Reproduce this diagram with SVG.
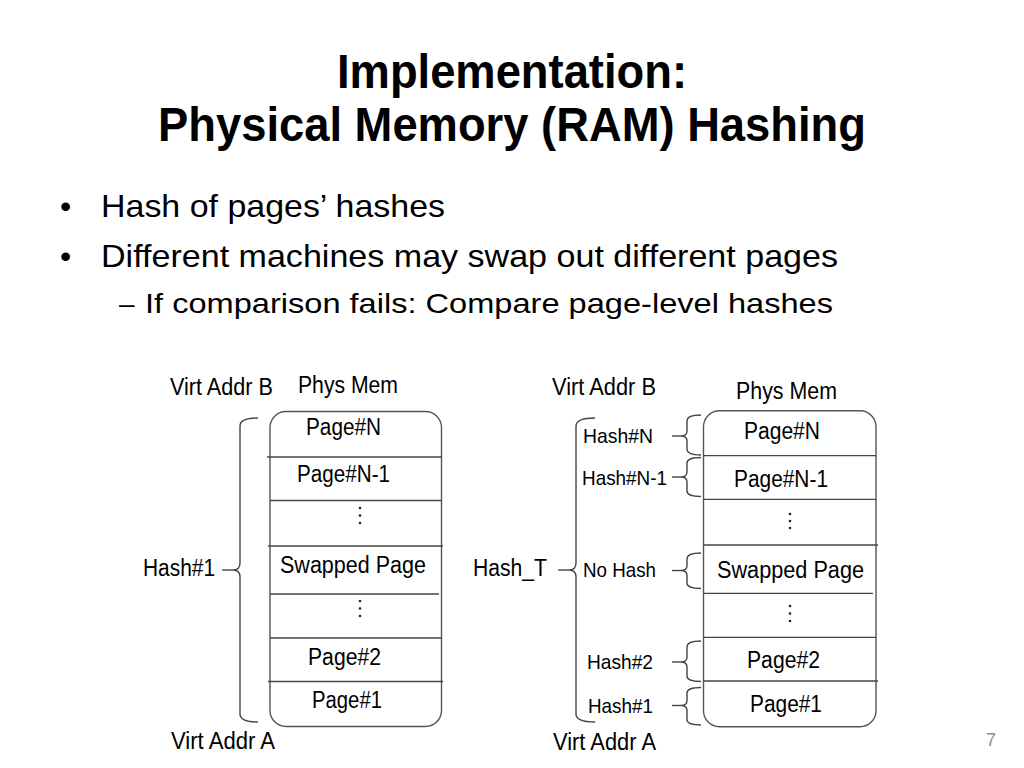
<svg xmlns="http://www.w3.org/2000/svg" width="1024" height="768" viewBox="0 0 1024 768">
<style>
text{font-family:"Liberation Sans",Arial,sans-serif;fill:#000}
.title{font-size:48px;font-weight:bold}
.b1{font-size:32px}
.b2{font-size:28px}
.lbl{font-size:23px}
.sm{font-size:21px}
.box{fill:#fff;stroke:#555;stroke-width:1.4}
.div{stroke:#444;stroke-width:1.3}
.br{fill:none;stroke:#444;stroke-width:1.4}
.dot{fill:#222}
</style>
<rect width="1024" height="768" fill="#fff"/>
<g id="title">
<text class="title" x="337" y="88" textLength="350" lengthAdjust="spacingAndGlyphs">Implementation:</text>
<text class="title" x="158" y="141" textLength="708" lengthAdjust="spacingAndGlyphs">Physical Memory (RAM) Hashing</text>
</g>
<g id="bullets">
<text class="b1" x="60" y="217">•</text>
<text class="b1" x="101" y="217" textLength="344" lengthAdjust="spacingAndGlyphs">Hash of pages’ hashes</text>
<text class="b1" x="60" y="267">•</text>
<text class="b1" x="101" y="267" textLength="737" lengthAdjust="spacingAndGlyphs">Different machines may swap out different pages</text>
<text class="b2" x="119" y="313">–</text>
<text class="b2" x="145" y="313" textLength="688" lengthAdjust="spacingAndGlyphs">If comparison fails: Compare page-level hashes</text>
</g>
<g id="left-diagram">
<g id="left-physmem">
<rect class="box" x="270" y="411.5" width="171.5" height="315" rx="16"/>
<line class="div" x1="267" y1="457" x2="441.5" y2="457"/>
<line class="div" x1="270" y1="500.5" x2="441.5" y2="500.5"/>
<line class="div" x1="268" y1="546" x2="443" y2="546"/>
<line class="div" x1="270" y1="594" x2="439" y2="594"/>
<line class="div" x1="270" y1="638" x2="441.5" y2="638"/>
<line class="div" x1="268" y1="681.5" x2="443" y2="681.5"/>
<text class="lbl" x="306" y="435" textLength="75" lengthAdjust="spacingAndGlyphs">Page#N</text>
<text class="lbl" x="297" y="481.5" textLength="93" lengthAdjust="spacingAndGlyphs">Page#N-1</text>
<circle class="dot" cx="360" cy="508" r="1.3"/><circle class="dot" cx="360" cy="515.5" r="1.3"/><circle class="dot" cx="360" cy="523" r="1.3"/>
<text class="lbl" x="280" y="573" textLength="146" lengthAdjust="spacingAndGlyphs">Swapped Page</text>
<circle class="dot" cx="360" cy="601" r="1.3"/><circle class="dot" cx="360" cy="608.5" r="1.3"/><circle class="dot" cx="360" cy="616" r="1.3"/>
<text class="lbl" x="308" y="665" textLength="73" lengthAdjust="spacingAndGlyphs">Page#2</text>
<text class="lbl" x="312" y="708" textLength="70" lengthAdjust="spacingAndGlyphs">Page#1</text>
</g>
<g id="left-labels">
<text class="lbl" x="170" y="395" textLength="103" lengthAdjust="spacingAndGlyphs">Virt Addr B</text>
<text class="lbl" x="298" y="393" textLength="100" lengthAdjust="spacingAndGlyphs">Phys Mem</text>
<text class="lbl" x="143" y="576" textLength="72" lengthAdjust="spacingAndGlyphs">Hash#1</text>
<text class="lbl" x="171" y="749" textLength="104" lengthAdjust="spacingAndGlyphs">Virt Addr A</text>
</g>
</g>
<g id="right-diagram">
<g id="right-physmem">
<rect class="box" x="703.5" y="410.7" width="172.5" height="316" rx="16"/>
<line class="div" x1="703.5" y1="455.7" x2="876" y2="455.7"/>
<line class="div" x1="703.5" y1="499.3" x2="876" y2="499.3"/>
<line class="div" x1="703.5" y1="545" x2="878" y2="545"/>
<line class="div" x1="703.5" y1="593.3" x2="873" y2="593.3"/>
<line class="div" x1="703.5" y1="637.3" x2="876" y2="637.3"/>
<line class="div" x1="703.5" y1="681" x2="878" y2="681"/>
<text class="lbl" x="744" y="439" textLength="76" lengthAdjust="spacingAndGlyphs">Page#N</text>
<text class="lbl" x="734" y="486.5" textLength="94" lengthAdjust="spacingAndGlyphs">Page#N-1</text>
<circle class="dot" cx="790" cy="514" r="1.3"/><circle class="dot" cx="790" cy="521" r="1.3"/><circle class="dot" cx="790" cy="528" r="1.3"/>
<text class="lbl" x="717" y="577.5" textLength="147" lengthAdjust="spacingAndGlyphs">Swapped Page</text>
<circle class="dot" cx="790" cy="606" r="1.3"/><circle class="dot" cx="790" cy="613.5" r="1.3"/><circle class="dot" cx="790" cy="621" r="1.3"/>
<text class="lbl" x="747" y="668" textLength="73" lengthAdjust="spacingAndGlyphs">Page#2</text>
<text class="lbl" x="750" y="711.5" textLength="72" lengthAdjust="spacingAndGlyphs">Page#1</text>
</g>
<g id="right-labels">
<text class="lbl" x="552" y="395" textLength="104" lengthAdjust="spacingAndGlyphs">Virt Addr B</text>
<text class="lbl" x="736" y="399" textLength="101" lengthAdjust="spacingAndGlyphs">Phys Mem</text>
<text class="lbl" x="473" y="576" textLength="74" lengthAdjust="spacingAndGlyphs">Hash_T</text>
<text class="lbl" x="553" y="750" textLength="103" lengthAdjust="spacingAndGlyphs">Virt Addr A</text>
<text class="sm" x="583" y="442.5" textLength="70" lengthAdjust="spacingAndGlyphs">Hash#N</text>
<text class="sm" x="582" y="485" textLength="85" lengthAdjust="spacingAndGlyphs">Hash#N-1</text>
<text class="sm" x="583" y="576.5" textLength="73" lengthAdjust="spacingAndGlyphs">No Hash</text>
<text class="sm" x="587" y="669" textLength="66" lengthAdjust="spacingAndGlyphs">Hash#2</text>
<text class="sm" x="588" y="712.5" textLength="65" lengthAdjust="spacingAndGlyphs">Hash#1</text>
</g>
</g>
<g id="connectors">
<path class="br" d="M258,418 Q240,418 240,426 L240,563 Q240,570 233,570 Q240,570 240,577 L240,714 Q240,722 258,722"/>
<line class="br" x1="222" y1="570" x2="233" y2="570"/>
<path class="br" d="M595,418 Q576,418 576,426 L576,563 Q576,570 569,570 Q576,570 576,577 L576,714 Q576,722 595,722"/>
<line class="br" x1="558" y1="570" x2="569" y2="570"/>
<path class="br" d="M701,415 Q687,415 687,421 L687,431 Q687,436 681,436 Q687,436 687,441 L687,449 Q687,455 701,455"/>
<line class="br" x1="672" y1="436" x2="681" y2="436"/>
<path class="br" d="M701,457.5 Q687,457.5 687,463 L687,472 Q687,477 681,477 Q687,477 687,482 L687,491 Q687,496.5 701,496.5"/>
<line class="br" x1="672" y1="477" x2="681" y2="477"/>
<path class="br" d="M701,553 Q687,553 687,559 L687,565.5 Q687,570.5 681,570.5 Q687,570.5 687,575.5 L687,583 Q687,588.5 701,588.5"/>
<line class="br" x1="672" y1="570.5" x2="681" y2="570.5"/>
<path class="br" d="M701,641 Q687,641 687,647 L687,657 Q687,662 681,662 Q687,662 687,667 L687,676 Q687,681.5 701,681.5"/>
<line class="br" x1="672" y1="662" x2="681" y2="662"/>
<path class="br" d="M701,687.5 Q687,687.5 687,693 L687,700.5 Q687,705.5 681,705.5 Q687,705.5 687,710.5 L687,719.5 Q687,725 701,725"/>
<line class="br" x1="672" y1="705.5" x2="681" y2="705.5"/>
</g>
<text x="986" y="746" font-size="18" style="fill:#8c8c8c">7</text>
</svg>
